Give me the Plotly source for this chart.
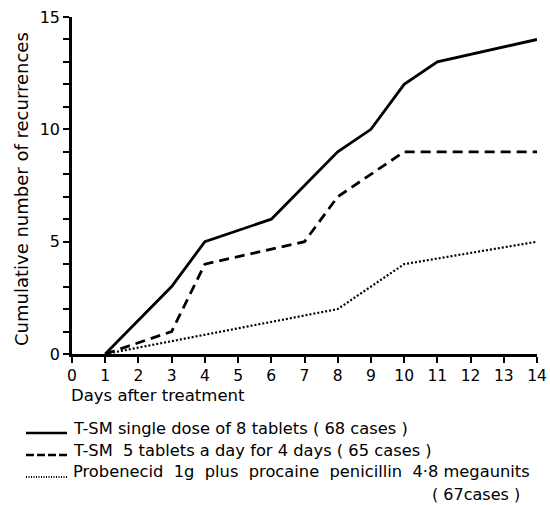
import plotly.graph_objects as go

# Data
days_single = [1, 3, 4, 6, 8, 9, 10, 11, 14]
rec_single = [0, 3, 5, 6, 9, 10, 12, 13, 14]

days_5tab = [1, 3, 4, 7, 8, 10, 14]
rec_5tab = [0, 1, 4, 5, 7, 9, 9]

days_prob = [1, 8, 10, 14]
rec_prob = [0, 2, 4, 5]

x_ticks = list(range(0, 15))
y_ticks = [0, 5, 10, 15]

legend_labels = [
    "T-SM single dose of 8 tablets ( 68 cases )",
    "T-SM  5 tablets a day for 4 days ( 65 cases )",
    "Probenecid  1g  plus  procaine  penicillin  4·8 megaunits",
]
legend_extra = "( 67cases )"

W, H = 550, 505
L, R, T, B = 72, 13, 17, 151
PW, PH = W - L - R, H - T - B
FONT = "DejaVu Sans"


def px(x):
    return (x - L) / PW


def py(y):
    return (H - B - y) / PH


fig = go.Figure()
fig.add_trace(go.Scatter(x=days_single, y=rec_single, mode="lines",
                         line=dict(color="black", width=2.8)))
fig.add_trace(go.Scatter(x=days_5tab, y=rec_5tab, mode="lines",
                         line=dict(color="black", width=2.8, dash="10px,6px")))
fig.add_trace(go.Scatter(x=days_prob, y=rec_prob, mode="lines",
                         line=dict(color="black", width=2.2, dash="2px,2px")))

fig.update_layout(
    width=W, height=H,
    margin=dict(l=L, r=R, t=T, b=B, autoexpand=False),
    plot_bgcolor="white", paper_bgcolor="white",
    showlegend=False,
    font=dict(family=FONT, color="black"),
    xaxis=dict(range=[0, 14], tickvals=x_ticks, ticktext=[str(v) for v in x_ticks],
               automargin=False,
               showgrid=False, zeroline=False, showline=True, linecolor="black",
               linewidth=2.5, ticks="outside", ticklen=6, tickwidth=2, tickcolor="black",
               tickfont=dict(size=15.5, family=FONT)),
    yaxis=dict(range=[0, 15], tickvals=y_ticks, ticktext=[str(v) for v in y_ticks],
               automargin=False,
               showgrid=False, zeroline=False, showline=True, linecolor="black",
               linewidth=2.5, ticks="outside", ticklen=6, tickwidth=2, tickcolor="black",
               tickfont=dict(size=16, family=FONT),
               minor=dict(dtick=1, ticks="outside", ticklen=6, tickwidth=2,
                          tickcolor="black", showgrid=False)),
)

annotations = [
    dict(text="Cumulative number of recurrences", x=px(21), y=py(189), textangle=-90,
         xanchor="center", yanchor="middle", font=dict(size=18)),
    dict(text="Days after treatment", x=px(69), y=py(395), xanchor="left",
         yanchor="middle", font=dict(size=16.5)),
]
row_y = [428, 450, 472]
for lab, ry in zip(legend_labels, row_y):
    annotations.append(dict(text=lab, x=px(71), y=py(ry), xanchor="left",
                            yanchor="middle", font=dict(size=16.3)))
annotations.append(dict(text=legend_extra, x=px(522), y=py(495), xanchor="right",
                        yanchor="middle", font=dict(size=16)))
for a in annotations:
    a.update(xref="paper", yref="paper", showarrow=False)
fig.update_layout(annotations=annotations)

dashes = [None, "8px,3px", "1px,1.5px"]
widths = [2.5, 2.5, 1.8]
for ry, d, w in zip(row_y, dashes, widths):
    line = dict(color="black", width=w)
    if d:
        line["dash"] = d
    fig.add_shape(type="line", xref="paper", yref="paper",
                  x0=px(26), x1=px(67), y0=py(ry + 5), y1=py(ry + 5), line=line)

fig.write_html("out.html", config={"displayModeBar": False},
               post_script="document.body.style.margin='0';")
